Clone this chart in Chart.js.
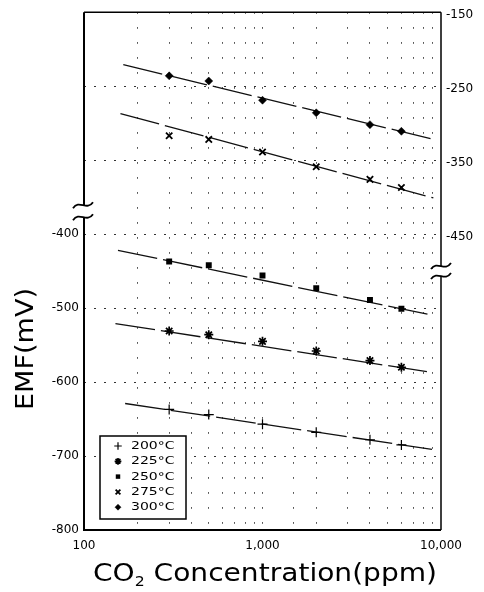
<!DOCTYPE html>
<html>
<head>
<meta charset="utf-8">
<script src="https://cdn.jsdelivr.net/npm/chart.js@4.4.1/dist/chart.umd.min.js"></script>
<style>
  html, body { margin: 0; padding: 0; background: #fff; }
  #chart-wrap { width: 484px; height: 592px; position: relative; }
</style>
</head>
<body>
<div id="chart-wrap"><canvas id="emf-chart"></canvas></div>
<script>
// CO2 concentrations (ppm) where EMF was measured
const concentrations = [300, 500, 1000, 2000, 4000, 6000];
const temperatures = ['200°C', '225°C', '250°C', '275°C', '300°C'];

// measured EMF (mV); 200-250 read on left axis, 275-300 on right axis
const emf200 = [-637, -644, -657, -668, -678, -685];
const emf225 = [-531, -536, -545, -558, -571, -580];
const emf250 = [-437, -442, -456, -473, -489, -501];
const emf275 = [-313, -318, -335, -355, -372, -383];
const emf300 = [-232, -239, -265, -282, -298, -307];

// fitted lines, two ends each (ppm / mV)
const fitX200 = [170, 8900];  const fitY200 = [-629, -691];
const fitX225 = [150, 8340];  const fitY225 = [-521, -586];
const fitX250 = [155, 8690];  const fitY250 = [-422, -509];
const fitX275 = [160, 9060];  const fitY275 = [-283, -397];
const fitX300 = [166, 8790];  const fitY300 = [-217, -317];

const xTickLabels = [100, 1000, 10000];
const leftTickLabels = [-800, -700, -600, -500, -400];
const rightTickLabels = [-450, -350, -250, -150];

// where the axis breaks sit (left axis value, right axis value)
const leftBreakValue = -369;
const rightBreakValue = -496;

const FONT = '"DejaVu Sans", "Liberation Sans", sans-serif';
const INK = '#000';

const series = [
    { label: temperatures[0], values: emf200, fitX: fitX200, fitY: fitY200, axis: 'y' },
    { label: temperatures[1], values: emf225, fitX: fitX225, fitY: fitY225, axis: 'y' },
    { label: temperatures[2], values: emf250, fitX: fitX250, fitY: fitY250, axis: 'y' },
    { label: temperatures[3], values: emf275, fitX: fitX275, fitY: fitY275, axis: 'y2' },
    { label: temperatures[4], values: emf300, fitX: fitX300, fitY: fitY300, axis: 'y2' }
];

const markerStyles = [
    { pointStyle: 'cross', radius: 5, borderWidth: 1.2 },
    { pointStyle: 'star', radius: 4.5, borderWidth: 1.7 },
    { pointStyle: 'rect', radius: 4.2, borderWidth: 0 },
    { pointStyle: 'crossRot', radius: 4.5, borderWidth: 1.8 },
    { pointStyle: 'rectRot', radius: 4, borderWidth: 0.5 }
];

const near = (a, b) => Math.abs(a - b) < 1e-6;

function buildDatasets() {
    const datasets = [];
    series.forEach((s, i) => {
        const st = markerStyles[i];
        datasets.push({
            label: s.label,
            isMarker: true,
            styleIndex: i,
            yAxisID: s.axis,
            data: concentrations.map((c, k) => ({ x: c, y: s.values[k] })),
            showLine: false,
            pointStyle: st.pointStyle,
            pointRadius: st.radius,
            pointBorderWidth: st.borderWidth,
            backgroundColor: INK,
            borderColor: INK,
            order: 0
        });
        datasets.push({
            label: s.label + ' fit',
            yAxisID: s.axis,
            data: s.fitX.map((x, k) => ({ x: x, y: s.fitY[k] })),
            showLine: true,
            pointRadius: 0,
            borderColor: '#111',
            borderWidth: 1.3,
            borderDash: [40, 6],
            order: 1
        });
    });
    return datasets;
}

function squiggle(ctx, x, y) {
    ctx.beginPath();
    ctx.moveTo(x - 10, y + 3);
    ctx.bezierCurveTo(x - 4, y - 6, x + 4, y + 6, x + 10, y - 3);
    ctx.stroke();
}

const axisFrame = {
    id: 'axisFrame',
    afterDraw(chart) {
        const { ctx, chartArea } = chart;
        const { left, right, top, bottom } = chartArea;
        const lb = chart.scales.y.getPixelForValue(leftBreakValue);
        const rb = chart.scales.y2.getPixelForValue(rightBreakValue);

        ctx.save();
        ctx.strokeStyle = INK;
        ctx.lineCap = 'butt';

        ctx.lineWidth = 2;
        ctx.beginPath();
        ctx.moveTo(left - 1, bottom);
        ctx.lineTo(right, bottom);
        ctx.moveTo(left, bottom);
        ctx.lineTo(left, lb + 6);
        ctx.moveTo(left, lb - 6);
        ctx.lineTo(left, top);
        ctx.stroke();

        ctx.lineWidth = 1.5;
        ctx.beginPath();
        ctx.moveTo(left, top);
        ctx.lineTo(right, top);
        ctx.moveTo(right, top);
        ctx.lineTo(right, rb - 5);
        ctx.moveTo(right, rb + 5);
        ctx.lineTo(right, bottom);
        ctx.stroke();

        ctx.lineWidth = 1.8;
        squiggle(ctx, left - 1, lb - 6);
        squiggle(ctx, left - 1, lb + 6);
        squiggle(ctx, right, rb - 5);
        squiggle(ctx, right, rb + 5);
        ctx.restore();
    }
};

// stretched text, as in the original typesetting
function drawStretched(ctx, parts, x, y, targetWidth) {
    let total = 0;
    parts.forEach(p => {
        ctx.font = p.size + 'px ' + FONT;
        p.w = ctx.measureText(p.text).width;
        total += p.w;
    });
    ctx.save();
    ctx.translate(x, y);
    ctx.scale(targetWidth / total, 1);
    let cx = 0;
    parts.forEach(p => {
        ctx.font = p.size + 'px ' + FONT;
        ctx.fillText(p.text, cx, p.dy || 0);
        cx += p.w;
    });
    ctx.restore();
}

const axisTitles = {
    id: 'axisTitles',
    afterDraw(chart) {
        const { ctx, chartArea } = chart;
        ctx.save();
        ctx.fillStyle = INK;
        ctx.textAlign = 'left';
        ctx.textBaseline = 'alphabetic';

        drawStretched(ctx, [
            { text: 'CO', size: 25 },
            { text: '2', size: 14, dy: 5 },
            { text: ' Concentration(ppm)', size: 25 }
        ], chartArea.left + 9, chartArea.bottom + 51, 344);

        ctx.save();
        ctx.translate(33, chartArea.bottom - 120);
        ctx.rotate(-Math.PI / 2);
        drawStretched(ctx, [{ text: 'EMF(mV)', size: 25 }], 0, 0, 122);
        ctx.restore();

        ctx.restore();
    }
};

const insetLegend = {
    id: 'insetLegend',
    afterDraw(chart) {
        const { ctx, chartArea } = chart;
        const x0 = chartArea.left + 16;
        const y0 = chartArea.bottom - 94;
        const w = 86, h = 83;
        const drawPoint = Chart.helpers && Chart.helpers.drawPoint;

        ctx.save();
        ctx.fillStyle = '#fff';
        ctx.fillRect(x0, y0, w, h);
        ctx.strokeStyle = INK;
        ctx.lineWidth = 1.5;
        ctx.strokeRect(x0, y0, w, h);

        chart.data.datasets.filter(d => d.isMarker).forEach((d, i) => {
            const st = markerStyles[d.styleIndex];
            const cy = y0 + 10 + i * 15.3;
            ctx.fillStyle = INK;
            ctx.strokeStyle = INK;
            ctx.lineWidth = st.borderWidth;
            if (drawPoint) {
                drawPoint(ctx, {
                    pointStyle: st.pointStyle,
                    radius: st.radius * 0.75,
                    borderWidth: st.borderWidth * 0.8,
                    rotation: 0
                }, x0 + 18, cy);
            }
            ctx.fillStyle = INK;
            ctx.textBaseline = 'middle';
            ctx.save();
            ctx.translate(x0 + 31, cy + 0.5);
            ctx.scale(1.4, 1);
            ctx.font = '10px ' + FONT;
            ctx.fillText(d.label, 0, 0);
            ctx.restore();
        });
        ctx.restore();
    }
};

const tickFont = { family: FONT, size: 12 };

const config = {
    type: 'scatter',
    data: { datasets: buildDatasets() },
    options: {
        responsive: true,
        maintainAspectRatio: false,
        animation: false,
        layout: { autoPadding: false, padding: { top: 8, right: 0, bottom: 0, left: 0 } },
        plugins: {
            legend: { display: false },
            tooltip: { enabled: false }
        },
        scales: {
            x: {
                type: 'logarithmic',
                min: 100,
                max: 10000,
                afterFit: s => { s.height = 62; },
                border: { display: false, dash: [1.5, 13.5] },
                grid: {
                    color: c => (c.tick && (near(c.tick.value, 100) || near(c.tick.value, 10000))) ? 'rgba(0,0,0,0)' : '#333',
                    lineWidth: 1,
                    drawTicks: false
                },
                ticks: {
                    autoSkip: false,
                    maxRotation: 0,
                    padding: 9,
                    color: INK,
                    font: tickFont,
                    callback: v => xTickLabels.some(t => near(t, v)) ? Number(v).toLocaleString('en-US') : ''
                }
            },
            y: {
                position: 'left',
                min: -800,
                max: -100,
                afterFit: s => { s.width = 84; },
                border: { display: false, dash: [2, 8] },
                grid: {
                    color: c => (c.tick && (c.tick.value === -800 || c.tick.value === -100)) ? 'rgba(0,0,0,0)' : '#333',
                    lineWidth: 1,
                    drawTicks: false
                },
                ticks: {
                    stepSize: 100,
                    padding: 5,
                    color: INK,
                    font: tickFont,
                    callback: v => leftTickLabels.includes(v) ? String(v) : ''
                }
            },
            y2: {
                position: 'right',
                min: -846,
                max: -146,
                afterFit: s => { s.width = 43; },
                afterBuildTicks: s => { s.ticks = rightTickLabels.map(v => ({ value: v })); },
                border: { display: false },
                grid: { display: false, drawTicks: false },
                ticks: {
                    padding: 5,
                    color: INK,
                    font: tickFont,
                    callback: v => String(v)
                }
            }
        }
    },
    plugins: [axisFrame, axisTitles, insetLegend]
};

new Chart(document.getElementById('emf-chart'), config);
</script>
</body>
</html>
